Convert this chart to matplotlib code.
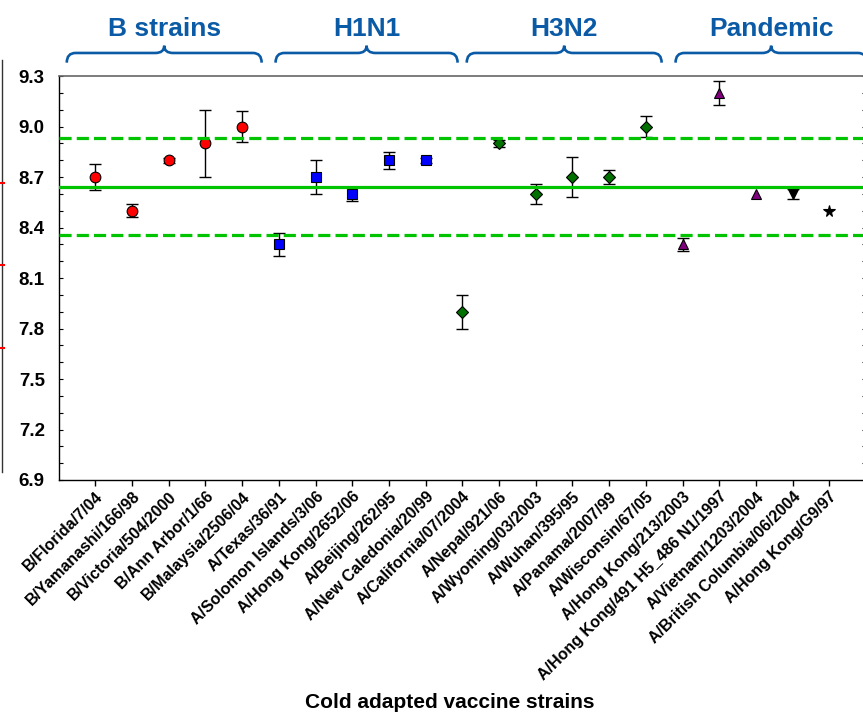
import numpy as np
import matplotlib
matplotlib.use('Agg')
import matplotlib.pyplot as plt
from matplotlib.path import Path
from matplotlib.patches import PathPatch
from matplotlib.lines import Line2D
from matplotlib.ticker import MultipleLocator
import matplotlib.transforms as mtransforms

plt.rcParams['font.family'] = ['Liberation Sans', 'DejaVu Sans']
plt.rcParams['font.weight'] = 'bold'

# data
strains = ['B/Florida/7/04', 'B/Yamanashi/166/98', 'B/Victoria/504/2000', 'B/Ann Arbor/1/66',
           'B/Malaysia/2506/04', 'A/Texas/36/91', 'A/Solomon Islands/3/06', 'A/Hong Kong/2652/06',
           'A/Beijing/262/95', 'A/New Caledonia/20/99', 'A/California/07/2004', 'A/Nepal/921/06',
           'A/Wyoming/03/2003', 'A/Wuhan/395/95', 'A/Panama/2007/99', 'A/Wisconsin/67/05',
           'A/Hong Kong/213/2003', 'A/Hong Kong/491 H5_486 N1/1997', 'A/Vietnam/1203/2004',
           'A/British Columbia/06/2004', 'A/Hong Kong/G9/97']
subtype = ['B'] * 5 + ['H1N1'] * 5 + ['H3N2'] * 6 + ['H5N1'] * 3 + ['H7N3', 'H9N2']
titer = [8.70, 8.50, 8.80, 8.90, 9.00, 8.30, 8.70, 8.60, 8.80, 8.80, 7.90, 8.90,
         8.60, 8.70, 8.70, 9.00, 8.30, 9.20, 8.60, 8.60, 8.50]
titer_err = [0.08, 0.04, 0.015, 0.20, 0.09, 0.07, 0.10, 0.04, 0.05, 0.015, 0.10, 0.02,
             0.06, 0.12, 0.04, 0.06, 0.04, 0.07, 0.0, 0.03, 0.0]
ref_mean = 8.64
ref_upper = 8.93
ref_lower = 8.355

group_names = ['B strains', 'H1N1', 'H3N2', 'Pandemic']
brace_spans = [(-0.78, 4.53), (4.91, 9.87), (10.12, 15.43), (15.81, 21.02)]

# marker style per subtype
styles = {
    'B':    dict(marker='o', ms=7.7, mfc='#ff0000'),
    'H1N1': dict(marker='s', ms=6.7, mfc='#0000ff'),
    'H3N2': dict(marker='D', ms=6.6, mfc='#007000'),
    'H5N1': dict(marker='^', ms=7.5, mfc='#800080'),
    'H7N3': dict(marker='v', ms=7.5, mfc='#000000'),
    'H9N2': dict(marker='*', ms=8.5, mfc='#000000'),
}

W, H = 863, 714
fig = plt.figure(figsize=(W / 100, H / 100), dpi=100)
ax = fig.add_axes([58.7 / W, 234 / H, (866 - 58.7) / W, 404 / H])

x = np.arange(len(strains))
y = np.array(titer)
e = np.array(titer_err)
st = np.array(subtype)

has_err = e > 0
ax.errorbar(x[has_err], y[has_err], yerr=e[has_err], fmt='none', ecolor='black',
            elinewidth=1.0, capsize=4, capthick=1.0, zorder=2)
for s, kw in styles.items():
    m = st == s
    ax.plot(x[m], y[m], linestyle='none', marker=kw['marker'], markersize=kw['ms'],
            markerfacecolor=kw['mfc'], markeredgecolor='black', markeredgewidth=0.8, zorder=2.5)

green = '#00c400'
ax.axhline(ref_mean, color=green, lw=2.3, zorder=3)
for v in (ref_upper, ref_lower):
    ax.axhline(v, color=green, lw=2.3, linestyle=(0, (3.8, 1.6)), zorder=3)

ax.set_xlim(-1, 21)
ax.set_ylim(6.9, 9.3)
ax.yaxis.set_minor_locator(MultipleLocator(0.1))
yt_vals = np.arange(6.9, 9.31, 0.3)
ax.set_yticks(yt_vals)
ax.set_yticklabels(['%.1f' % v for v in yt_vals], fontsize=13.5, fontweight='bold')
ax.tick_params(axis='y', which='both', direction='in', length=3, width=0.8, right=True, pad=10)
ax.set_xticks(x)
ax.set_xticklabels(strains, rotation=45, ha='right', va='top', rotation_mode='anchor',
                   fontsize=11.5, fontweight='bold')
ax.tick_params(axis='x', direction='out', length=4.5, width=1.0, pad=2)

for side in ('left', 'bottom'):
    ax.spines[side].set_linewidth(1.0)
ax.spines['top'].set_color('#666666')
ax.spines['top'].set_linewidth(1.2)

# group braces above the plot
blue = '#0b5aa6'
trans = mtransforms.blended_transform_factory(ax.transData, ax.transAxes)
yb, ym, yt = 1.033, 1.057, 1.075
r = 0.24
for name, (x0, x1) in zip(group_names, brace_spans):
    xc = (x0 + x1) / 2
    verts = [(x0, yb), (x0, ym), (x0 + r, ym), (xc - r, ym), (xc, ym), (xc, yt),
             (xc, ym), (xc + r, ym), (x1 - r, ym), (x1, ym), (x1, yb)]
    codes = [Path.MOVETO, Path.CURVE3, Path.CURVE3, Path.LINETO, Path.CURVE3, Path.CURVE3,
             Path.CURVE3, Path.CURVE3, Path.LINETO, Path.CURVE3, Path.CURVE3]
    ax.add_patch(PathPatch(Path(verts, codes), fill=False, edgecolor=blue, lw=1.9,
                           transform=trans, clip_on=False))
    ax.text(xc, 1.1, name, transform=trans, ha='center', va='baseline',
            fontsize=19, fontweight='bold', color=blue)

fig.text(450 / W, 1 - 708 / H, 'Cold adapted vaccine strains', ha='center', va='baseline',
         fontsize=15, fontweight='bold')

# edge of the neighbouring panel, cropped at the left
fig.add_artist(Line2D([1.5 / W, 1.5 / W], [1 - 60 / H, 1 - 472 / H], transform=fig.transFigure,
                      color='#333333', lw=1.0))
for py in (183, 265, 348):
    fig.add_artist(Line2D([0, 4 / W], [1 - py / H, 1 - py / H], transform=fig.transFigure,
                          color='red', lw=1.5))

fig.savefig('out.png', dpi=100)
